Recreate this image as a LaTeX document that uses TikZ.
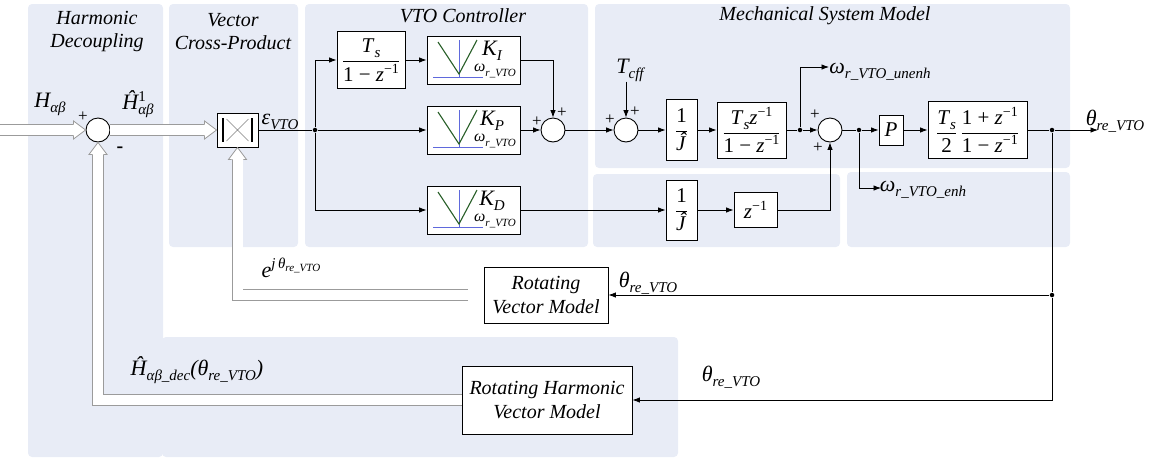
\documentclass[tikz,border=0pt]{standalone}
\usepackage{fontspec}
\setmainfont{LiberationSerif}[Extension=.ttf,UprightFont=*-Regular,ItalicFont=*-Italic,BoldFont=*-Bold,BoldItalicFont=*-BoldItalic]
\usetikzlibrary{arrows.meta,calc}
\definecolor{panel}{RGB}{232,236,246}
\definecolor{dblc}{RGB}{155,155,155}
\definecolor{vgreen}{RGB}{40,95,40}
\definecolor{axblue}{RGB}{95,105,220}
\newcommand\lo[2][15]{\raisebox{-5pt}{\fontsize{#1}{#1}\selectfont\itshape #2}}
\newcommand\hi[2][14]{\raisebox{8pt}{\fontsize{#1}{#1}\selectfont\upshape #2}}
\newcommand\omr{\fontsize{16}{16}\selectfont\textit{ω}\lo[11]{r\_VTO}}
\newcommand\invj{$\displaystyle\frac{\mbox{1}}{\mbox{\textit{Ĵ}}}$}
\begin{document}
\begin{tikzpicture}[x=1pt,y=-1pt,line width=0.8pt,
  >={Latex[length=7.5pt,width=5.5pt]},
  every node/.style={font=\fontsize{21}{24}\selectfont},
  blk/.style={draw,fill=white,line width=0.9pt,inner sep=0pt,align=center},
  sumc/.style={draw,circle,minimum size=24pt,inner sep=0pt,fill=white,line width=0.9pt},
  jdot/.style={circle,fill=black,inner sep=0pt,minimum size=4.5pt},
  ttl/.style={font=\fontsize{20}{23}\selectfont\itshape,align=center,inner sep=0pt},
  lab/.style={font=\fontsize{22}{24}\selectfont\itshape,inner sep=0pt},
  pls/.style={font=\fontsize{17}{17}\selectfont,inner sep=0pt},
  dbl/.style={draw=dblc,double=white,double distance=10pt,line width=0.8pt,line join=miter,shorten >=12pt},
  htip/.pic={\fill[white] (0,0) -- (-12,-9) -- (-12,9) -- cycle;
             \draw[dblc,line width=0.8pt,line join=miter] (-12,-5.8) -- (-12,-9) -- (0,0) -- (-12,9) -- (-12,5.8);}
]
\useasboundingbox (0,0) rectangle (1158,459);
% panels
\fill[panel,rounded corners=4pt] (28,4) rectangle (163,457);
\fill[panel,rounded corners=4pt] (169,4) rectangle (298,247);
\fill[panel,rounded corners=4pt] (305,4) rectangle (588,247);
\fill[panel,rounded corners=4pt] (595,4) rectangle (1070,168);
\fill[panel,rounded corners=4pt] (593,174) rectangle (840,247);
\fill[panel,rounded corners=4pt] (847,172) rectangle (1070,247);
\fill[panel,rounded corners=4pt] (162,337) rectangle (678,457);
% titles
\node[ttl] (tHD) at (97,31.5) {Harmonic\\Decoupling};
\node[ttl] (tVC) at (233,31.5) {Vector\\Cross-Product};
\node[ttl] (tVTO) at (463,16) {VTO Controller};
\node[ttl] (tMS) at (825,16) {Mechanical System Model};
% blocks
\node[sumc] (s1) at (98,130) {};
\node[blk,minimum width=41pt,minimum height=34pt] (cp) at (237.5,130) {};
\node[jdot] (j1) at (315,130) {};
\node[blk,minimum width=68pt,minimum height=57pt] (ts) at (371,60)
  {$\displaystyle\frac{\mbox{\textit{T}\lo{s}}}{\mbox{1 − \textit{z}\hi{−1}}}$};
\node[blk,minimum width=93pt,minimum height=48pt] (ki) at (473.5,60) {};
\node[blk,minimum width=93pt,minimum height=48pt] (kp) at (473.5,130) {};
\node[blk,minimum width=93pt,minimum height=48pt] (kd) at (473.5,210) {};
\node[sumc] (s2) at (553,130) {};
\node[sumc] (s3) at (626,130) {};
\node[lab] (tcff) at (630,70) {\textit{T}\lo{cff}};
\node[blk,minimum width=31pt,minimum height=61pt] (jb1) at (681.5,130) {\invj};
\node[blk,minimum width=69pt,minimum height=56pt] (tsz) at (751.5,130)
  {$\displaystyle\frac{\mbox{\textit{T}\lo{s}\textit{z}\hi{−1}}}{\mbox{1 − \textit{z}\hi{−1}}}$};
\node[jdot] (j2) at (800,130) {};
\node[sumc] (s4) at (830,130) {};
\node[jdot] (j3) at (859,130) {};
\node[blk,minimum width=24pt,minimum height=30pt] (pb) at (891,130) {\textit{P}};
\node[blk,minimum width=99pt,minimum height=57pt] (ts2) at (977.5,130)
  {$\displaystyle\frac{\mbox{\textit{T}\lo{s}}}{\mbox{2}}\,\frac{\mbox{1 + \textit{z}\hi{−1}}}{\mbox{1 − \textit{z}\hi{−1}}}$};
\node[jdot] (j4) at (1052,130) {};
\coordinate (out) at (1098,130);
\node[blk,minimum width=31pt,minimum height=60pt] (jb2) at (681.5,210) {\invj};
\node[blk,minimum width=43pt,minimum height=35pt] (zb) at (755.5,210) {\textit{z}\hi{−1}};
\node[jdot] (j5) at (1052,295) {};
\node[blk,minimum width=124pt,minimum height=56pt,font=\fontsize{20}{24}\selectfont\itshape] (rvm) at (546,295) {Rotating\\Vector Model};
\node[blk,minimum width=170pt,minimum height=68pt,font=\fontsize{20}{24}\selectfont\itshape] (rhvm) at (547,400) {Rotating Harmonic\\Vector Model};
% K block internals
\foreach \k in {ki,kp,kd}{
  \draw[axblue,line width=0.5pt] ($(\k)+(-14.5,-20)$) -- ($(\k)+(-14.5,18)$);
  \draw[axblue,line width=0.5pt] ($(\k)+(-40.5,17)$) -- ($(\k)+(9.5,17)$);
  \draw[vgreen,line width=1.1pt] ($(\k)+(-35.5,-18)$) -- ($(\k)+(-14.5,14)$) -- ($(\k)+(3.5,-20)$);
  \node[inner sep=0pt] (\k w) at ($(\k)+(21.5,11)$) {\omr};
}
\node[lab] (kil) at ($(ki)+(18.5,-9)$) {\textit{K}\lo{I}};
\node[lab] (kpl) at ($(kp)+(18.5,-9)$) {\textit{K}\lo{P}};
\node[lab] (kdl) at ($(kd)+(18.5,-9)$) {\textit{K}\lo{D}};
% cross product internals
\draw[line width=2pt] ($(cp)+(-14.5,-12)$) -- ($(cp)+(-14.5,12)$);
\draw[line width=2pt] ($(cp)+(14.5,-12)$) -- ($(cp)+(14.5,12)$);
\draw[gray,line width=0.6pt] ($(cp)+(-11,-11)$) -- ($(cp)+(11,11)$) ($(cp)+(-11,11)$) -- ($(cp)+(11,-11)$);
% signs
\node[pls] (p1) at (83,117) {+};
\node[pls,font=\fontsize{20}{20}\selectfont\bfseries] (m1) at (120,150) {-};
\node[pls] (p2a) at (537,122) {+};
\node[pls] (p2b) at (562,113) {+};
\node[pls] (p3a) at (610,120) {+};
\node[pls] (p3b) at (635,112) {+};
\node[pls] (p4a) at (815,115) {+};
\node[pls] (p4b) at (818,148) {+};
% labels
\node[lab] (lH) at (50,104) {\textit{H}\lo{αβ}};
\node[lab] (lH1) at (138,104) {\textit{Ĥ}\rlap{\hi[15]{1}}\lo{αβ}};
\node[lab] (leps) at (280,122) {\textit{ε}\lo{VTO}};
\node[lab] (lunenh) at (880,72) {\textit{ω}\lo{r\_VTO\_unenh}};
\node[lab] (lenh) at (923,190) {\textit{ω}\lo{r\_VTO\_enh}};
\node[lab] (lout) at (1115,121) {\textit{θ}\lo{re\_VTO}};
\node[lab] (lejt) at (291,268) {\textit{e}\raisebox{9pt}{\fontsize{15}{15}\selectfont\itshape j\,θ\raisebox{-3pt}{\fontsize{11}{11}\selectfont re\_VTO}}};
\node[lab] (lfb1) at (648,283) {\textit{θ}\lo{re\_VTO}};
\node[lab] (lfb2) at (731,377) {\textit{θ}\lo{re\_VTO}};
\node[lab] (lHdec) at (197,370) {\textit{Ĥ}\lo{αβ\_dec}(\textit{θ}\lo{re\_VTO})};
% coordinates for free ends
\coordinate (in) at (0,130);
\coordinate (u1) at (829,67);
\coordinate (e1) at (881,188);
\coordinate (fbA) at (468,295);
% signal connectors
\draw[->] (j1) |- (ts.west);
\draw[->] (ts) -- (ki);
\draw[->] (ki.east) -| (s2.north);
\draw (cp) -- (j1);
\draw[->] (j1) -- (kp);
\draw[->] (j1) |- (kd.west);
\draw[->] (kp) -- (s2);
\draw[->] (s2) -- (s3);
\draw[->] (tcff.south -| s3) -- (s3.north);
\draw[->] (s3) -- (jb1);
\draw[->] (jb1) -- (tsz);
\draw (tsz) -- (j2);
\draw[->] (j2) -- (s4);
\draw[->] (j2) |- (u1);
\draw (s4) -- (j3);
\draw[->] (j3) |- (e1);
\draw[->] (j3) -- (pb);
\draw[->] (pb) -- (ts2);
\draw (ts2) -- (j4);
\draw[->] (j4) -- (out);
\draw[->] (kd) -- (jb2);
\draw[->] (jb2) -- (zb);
\draw[->] (zb.east) -| (s4.south);
\draw (j4) -- (j5);
\draw[->] (j5) |- (rhvm.east);
\draw[->] (j5) -- (rvm);
% hollow vector connectors
\draw[dbl] (in) -- (s1.west);
\pic at (s1.west) {htip};
\draw[dbl] (s1.east) -- (cp.west);
\pic at (cp.west) {htip};
\draw[dbl] (fbA) -| (cp.south);
\pic[rotate=90] at (cp.south) {htip};
\draw[dbl] (rhvm.west) -| (s1.south);
\pic[rotate=90] at (s1.south) {htip};
\end{tikzpicture}
\end{document}
